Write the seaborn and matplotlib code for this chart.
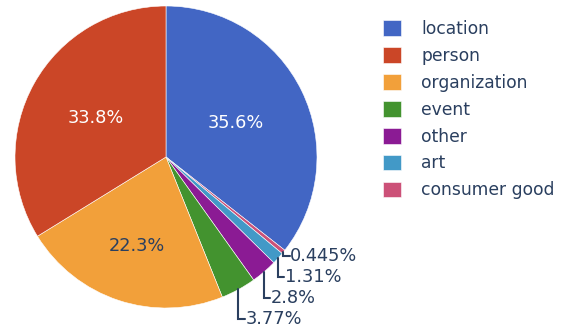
import numpy as np
import matplotlib
matplotlib.use("Agg")
import matplotlib.pyplot as plt
from matplotlib.patches import Patch
import seaborn as sns

categories = ["location", "person", "organization", "event", "other", "art", "consumer good"]
percents = [35.6, 33.8, 22.3, 3.77, 2.8, 1.31, 0.445]
colors = ["#4266c4", "#cb4627", "#f2a03a", "#43932f", "#8b1b94", "#4299c7", "#cc5178"]

sns.set_theme(style="white")
plt.rcParams['font.family'] = ['DejaVu Sans']
TXT = "#2a3f5f"
palette = sns.color_palette(colors)

# drawing order (clockwise from 12 o'clock): largest first, then the rest reversed
order = [0] + list(range(len(categories) - 1, 0, -1))
vals = [percents[i] for i in order]
cols = [palette[i] for i in order]
total = sum(vals)

fig = plt.figure(figsize=(5.61, 3.29), dpi=100)
ax = fig.add_axes([15 / 561, 21 / 329, 302 / 561, 302 / 329])
wedges, _ = ax.pie(vals, colors=cols, startangle=90, counterclock=False,
                   wedgeprops=dict(edgecolor="white", linewidth=0.4))
ax.set_xlim(-1, 1)
ax.set_ylim(-1, 1)
ax.set_aspect("equal")
ax.axis("off")

inside_r = {"location": 0.51, "person": 0.53, "organization": 0.62}
inside_col = {"location": "white", "person": "white", "organization": TXT}

prev_y = None
step = 21 / 151
for w, idx in zip(wedges, order):
    name = categories[idx]
    pct = percents[idx] / total * 100
    label = f"{pct:.3g}%"
    mid = np.deg2rad((w.theta1 + w.theta2) / 2)
    cx, cy = np.cos(mid), np.sin(mid)
    if name in inside_r:
        r = inside_r[name]
        ax.text(r * cx, r * cy, label, ha="center", va="center",
                fontsize=12.8, color=inside_col[name])
    else:
        ly = cy - 0.025 if prev_y is None else min(cy, prev_y - step)
        prev_y = ly
        hx = cx + 0.04
        ax.plot([cx, cx, hx], [cy, ly, ly], color=TXT, lw=1.5, clip_on=False,
                solid_joinstyle="miter")
        ax.text(hx + 0.005, ly, label, ha="left", va="center",
                fontsize=12.8, color=TXT)

handles = [Patch(facecolor=palette[i], edgecolor="white", linewidth=0.4)
           for i in range(len(categories))]
fig.legend(handles, categories, loc="upper left", bbox_to_anchor=(383 / 561, 1 - 20 / 329),
           frameon=False, fontsize=12.3, handlelength=1.03, handleheight=1.03,
           handletextpad=1.2, labelspacing=0.52, borderpad=0, borderaxespad=0,
           labelcolor=TXT)

fig.savefig("out.png", dpi=100)
